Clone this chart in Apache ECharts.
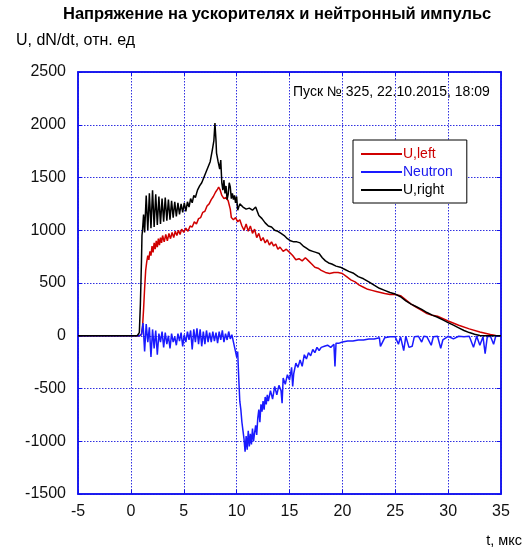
<!DOCTYPE html>
<html><head><meta charset="utf-8">
<script src="https://cdn.jsdelivr.net/npm/echarts@6/dist/echarts.min.js"></script>
<style>html,body{margin:0;padding:0;background:#fff}#c{width:523px;height:549px}</style>
</head><body><div id="c"></div>
<script>
const titleText = 'Напряжение на ускорителях и нейтронный импульс';
const yName = 'U, dN/dt, отн. ед';
const xName = 't, мкс';
const note = 'Пуск № 325, 22.10.2015, 18:09';
const seriesNames = ['U,left', 'Neutron', 'U,right'];

const tLeft = [-5,0.8,1.0,1.1,1.2,1.3,1.4,1.5,1.6,1.7,1.8,1.9,2.0,2.1,2.2,2.3,2.4,2.5,2.6,2.7,2.8,2.9,3.0,3.15,3.3,3.45,3.6,3.75,3.9,4.05,4.2,4.35,4.5,4.65,4.8,5.0,5.2,5.4,5.6,5.8,6.0,6.2,6.4,6.6,6.8,7.0,7.2,7.4,7.6,7.8,8.0,8.2,8.3,8.45,8.6,8.8,9.0,9.2,9.4,9.5,9.7,9.9,10.1,10.3,10.5,10.7,10.9,11.1,11.3,11.5,11.7,11.9,12.1,12.3,12.5,12.7,12.9,13.1,13.3,13.5,13.7,13.9,14.1,14.4,14.7,15.0,15.3,15.6,15.9,16.2,16.5,16.8,17.1,17.4,17.7,18.0,18.4,18.8,19.2,19.6,20.0,20.4,20.8,21.2,21.6,22.0,22.4,22.8,23.2,23.6,24.0,24.5,25.0,25.5,26.0,26.5,27.0,27.5,28.0,28.5,29.0,30.0,31.0,32.0,33.0,34.0,34.5,35.0];
const uLeft = [0,0,10,80,250,450,620,700,760,720,800,760,850,790,880,820,900,840,920,860,930,880,950,890,960,900,970,920,980,930,990,950,1000,960,1010,980,1020,990,1040,1030,1080,1060,1110,1120,1170,1180,1230,1250,1290,1320,1360,1390,1410,1380,1330,1300,1310,1280,1200,1120,1100,1120,1080,1100,1040,1000,1060,990,1040,970,1010,930,970,900,930,880,910,860,890,850,870,820,840,800,820,790,760,720,730,710,740,710,680,650,640,620,600,590,600,600,590,560,530,510,480,460,440,430,420,410,400,390,390,380,340,300,270,240,210,195,185,140,100,65,35,12,3,0];

const tNeutron = [-5,-2,0.8,1.0,1.15,1.3,1.45,1.6,1.75,1.9,2.05,2.2,2.35,2.5,2.65,2.8,2.95,3.1,3.25,3.4,3.55,3.7,3.85,4.0,4.15,4.3,4.45,4.6,4.75,4.9,5.05,5.2,5.35,5.5,5.65,5.8,5.95,6.1,6.25,6.4,6.55,6.7,6.85,7.0,7.15,7.3,7.45,7.6,7.75,7.9,8.05,8.2,8.35,8.5,8.65,8.8,8.95,9.1,9.25,9.4,9.55,9.7,9.85,10.0,10.1,10.2,10.3,10.4,10.5,10.6,10.7,10.8,10.9,11.0,11.1,11.2,11.3,11.4,11.5,11.6,11.7,11.8,11.9,12.0,12.1,12.2,12.3,12.4,12.5,12.6,12.7,12.8,12.9,13.0,13.2,13.4,13.6,13.8,14.0,14.2,14.3,14.4,14.6,14.8,15.0,15.2,15.3,15.4,15.6,15.8,16.0,16.2,16.4,16.6,16.8,17.0,17.2,17.4,17.6,17.8,18.0,18.3,18.6,18.9,19.2,19.3,19.4,19.7,20.0,20.5,21.0,21.5,22.0,22.5,23.0,23.5,23.6,24.0,24.5,25.0,25.3,25.5,25.8,26.0,26.3,26.6,26.8,27.2,27.5,27.7,28.0,28.4,28.6,29.0,29.3,29.5,30.0,30.5,31.0,31.5,32.0,32.4,32.7,33.0,33.3,33.5,33.7,34.0,34.3,34.5,35.0];
const neutron = [0,0,0,10,120,-150,110,-60,80,-200,60,-120,50,-180,20,-60,40,-110,30,-80,0,-120,20,-60,-10,-90,20,-50,30,-100,10,-60,40,-40,50,-130,60,-60,70,-80,60,-100,40,-80,50,-60,30,-60,40,-50,30,-70,40,-40,50,-60,20,-40,40,-30,10,-60,-130,-200,-150,-400,-620,-700,-820,-900,-980,-1100,-950,-1080,-900,-1050,-930,-1030,-880,-1000,-920,-850,-940,-780,-700,-820,-650,-720,-620,-700,-580,-650,-560,-620,-520,-600,-480,-560,-470,-520,-640,-400,-460,-370,-420,-300,-480,-360,-260,-300,-230,-290,-180,-220,-160,-190,-130,-160,-110,-140,-110,-100,-90,-110,-80,-290,-70,-70,-60,-50,-50,-40,-40,-30,-30,-20,-100,-20,-10,-10,-80,-10,-140,-5,-110,-100,-10,-5,-60,-5,-10,-90,-10,-5,-120,-40,-5,-30,-5,-10,-5,-110,-5,-90,-10,-170,-10,-5,-80,-5,0];

const tRight = [-5,0.6,0.8,0.9,1.0,1.05,1.1,1.2,1.3,1.45,1.6,1.75,1.9,2.05,2.2,2.35,2.5,2.65,2.8,2.95,3.1,3.25,3.4,3.55,3.7,3.85,4.0,4.15,4.3,4.45,4.6,4.75,4.9,5.05,5.2,5.35,5.5,5.65,5.8,5.95,6.1,6.3,6.5,6.7,6.9,7.1,7.3,7.5,7.7,7.85,7.95,8.05,8.1,8.25,8.4,8.5,8.6,8.7,8.8,8.9,9.0,9.1,9.2,9.3,9.4,9.5,9.6,9.7,9.8,9.9,10.0,10.1,10.3,10.6,10.9,11.2,11.5,11.8,12.1,12.4,12.7,13.0,13.3,13.6,13.9,14.2,14.5,14.8,15.1,15.4,15.7,16.0,16.3,16.6,16.9,17.2,17.5,17.8,18.1,18.4,18.7,19.0,19.4,19.8,20.2,20.6,21.0,21.5,22.0,22.5,23.0,23.5,24.0,24.5,25.0,25.5,26.0,26.5,27.0,27.5,28.0,28.5,29.0,29.5,30.0,30.5,31.0,31.5,32.0,32.5,33.0,33.5,35.0];
const uRight = [0,0,30,300,700,950,1000,1150,980,1330,1000,1350,1020,1380,1030,1340,1050,1320,1060,1300,1080,1310,1090,1290,1100,1280,1120,1270,1130,1260,1150,1250,1170,1260,1180,1270,1220,1300,1260,1330,1310,1380,1420,1450,1500,1550,1600,1650,1760,1850,2015,1850,1730,1650,1580,1665,1450,1380,1475,1350,1420,1290,1340,1450,1410,1300,1350,1290,1330,1260,1320,1190,1250,1220,1200,1210,1190,1220,1140,1110,1070,1040,1030,1000,990,970,950,920,900,890,890,880,850,830,810,800,790,780,740,710,690,680,660,650,630,610,595,560,540,510,480,450,430,410,395,370,330,300,275,250,220,195,175,150,125,100,75,50,30,15,3,0,0];

const xTicks = [-5, 35, 5];
const yTicks = [-1500, 2500, 500];

function pairs(t, v) { return t.map((x, i) => [x, v[i]]); }

const blue = '#1010ee';
const FF = '"Liberation Sans", Arial, sans-serif';
const chart = echarts.init(document.getElementById('c'), null, {renderer: 'canvas'});
const axisLab = {fontFamily: FF, fontSize: 16, color: '#111', formatter: v => String(v)};
const sideAxis = {
  axisLine: {show: true, onZero: false, lineStyle: {color: blue, width: 1.5}},
  axisTick: {show: true, inside: true, length: 4, lineStyle: {color: blue}},
  axisLabel: {show: false}, splitLine: {show: false}
};
chart.setOption({
  animation: false,
  backgroundColor: '#fff',
  grid: {left: 78, right: 22, top: 72, bottom: 55, show: true, borderColor: blue, borderWidth: 1.5},
  xAxis: [Object.assign({
    type: 'value', min: xTicks[0], max: xTicks[1], interval: xTicks[2],
    axisLine: {show: true, onZero: false, lineStyle: {color: blue, width: 1.5}},
    axisTick: {show: true, inside: true, length: 4, lineStyle: {color: blue}},
    axisLabel: Object.assign({margin: 10}, axisLab),
    splitLine: {show: true, lineStyle: {color: '#3030e0', type: [1.5, 1.5], width: 1}}
  }), Object.assign({type: 'value', position: 'top', min: xTicks[0], max: xTicks[1], interval: xTicks[2]}, sideAxis)],
  yAxis: [{
    type: 'value', min: yTicks[0], max: yTicks[1], interval: yTicks[2],
    axisLine: {show: true, onZero: false, lineStyle: {color: blue, width: 1.5}},
    axisTick: {show: true, inside: true, length: 4, lineStyle: {color: blue}},
    axisLabel: Object.assign({margin: 12}, axisLab),
    splitLine: {show: true, lineStyle: {color: '#3030e0', type: [1.5, 1.5], width: 1}}
  }, Object.assign({type: 'value', position: 'right', min: yTicks[0], max: yTicks[1], interval: yTicks[2]}, sideAxis)],
  legend: {
    orient: 'vertical', left: 353, top: 140, padding: [7, 14, 6, 8],
    backgroundColor: '#fff', borderColor: '#000', borderWidth: 1, borderRadius: 0,
    itemWidth: 41, itemHeight: 2, itemGap: 4, icon: 'rect',
    textStyle: {fontFamily: FF, fontSize: 14, padding: [0, 0, 0, -4]},
    data: [
      {name: seriesNames[0], textStyle: {color: '#cc0000'}},
      {name: seriesNames[1], textStyle: {color: '#1a1aee'}},
      {name: seriesNames[2], textStyle: {color: '#000'}}
    ]
  },
  graphic: [
    {type: 'text', left: 63, top: 6, style: {text: titleText, font: 'bold 16.5px ' + FF, fill: '#000'}},
    {type: 'text', left: 16, top: 33, style: {text: yName, font: '16px ' + FF, fill: '#000'}},
    {type: 'text', right: 1, top: 533, style: {text: xName, font: '14.5px ' + FF, fill: '#000'}},
    {type: 'text', left: 293, top: 85, style: {text: note, font: '14px ' + FF, fill: '#000'}}
  ],
  series: [
    {name: seriesNames[0], type: 'line', showSymbol: false, data: pairs(tLeft, uLeft), color: '#d00000', lineStyle: {width: 1.5, color: '#d00000'}},
    {name: seriesNames[1], type: 'line', showSymbol: false, data: pairs(tNeutron, neutron), color: '#1a1aff', lineStyle: {width: 1.5, color: '#1a1aff'}},
    {name: seriesNames[2], type: 'line', showSymbol: false, data: pairs(tRight, uRight), color: '#000', lineStyle: {width: 1.5, color: '#000'}}
  ]
});
</script></body></html>
